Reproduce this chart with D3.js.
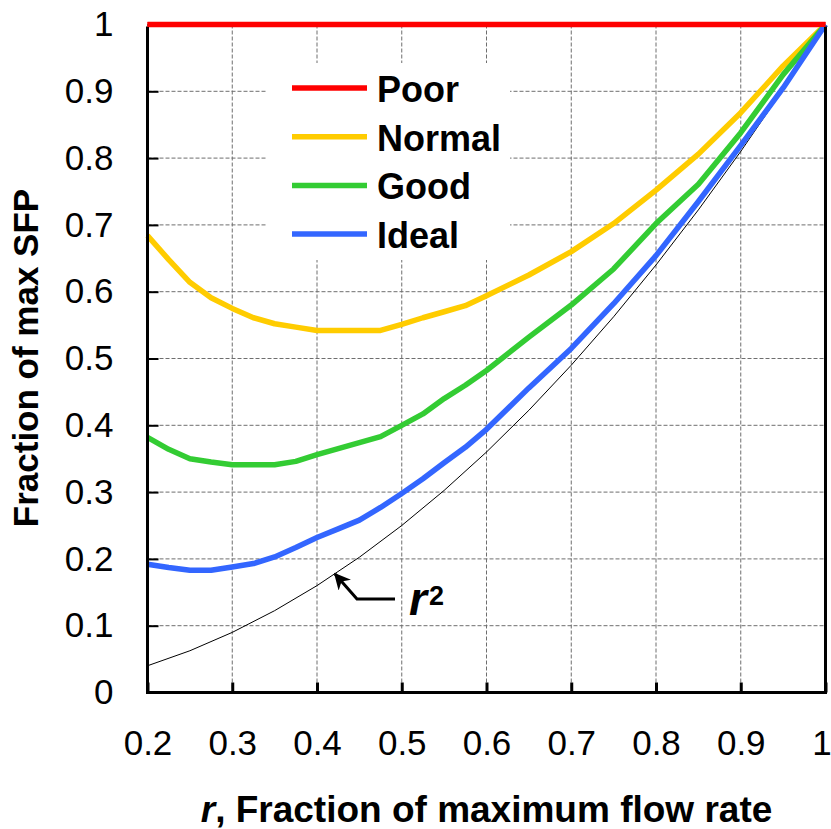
<!DOCTYPE html>
<html>
<head>
<meta charset="utf-8">
<script src="https://cdn.jsdelivr.net/npm/d3@7"></script>
<style>
body { margin: 0; background: #fff; }
text { font-family: "Liberation Sans", Arial, sans-serif; }
</style>
</head>
<body>
<div id="chart"></div>
<script>
var X_VALUES = [0.2, 0.225, 0.25, 0.275, 0.3, 0.325, 0.35, 0.375, 0.4, 0.425, 0.45, 0.475, 0.5,
	0.525, 0.55, 0.575, 0.6, 0.65, 0.7, 0.75, 0.8, 0.85, 0.9, 0.95, 1.0];
var POOR = [1, 1, 1, 1, 1, 1, 1, 1, 1, 1, 1, 1, 1, 1, 1, 1, 1, 1, 1, 1, 1, 1, 1, 1, 1];
var NORMAL = [0.684, 0.648, 0.614, 0.591, 0.575, 0.561, 0.552, 0.547, 0.542, 0.542, 0.542, 0.542, 0.551,
	0.561, 0.570, 0.579, 0.594, 0.625, 0.660, 0.702, 0.752, 0.806, 0.868, 0.938, 1.0];
var GOOD = [0.382, 0.364, 0.350, 0.345, 0.341, 0.341, 0.341, 0.346, 0.356, 0.365, 0.374, 0.383, 0.400,
	0.417, 0.440, 0.460, 0.482, 0.532, 0.580, 0.634, 0.702, 0.761, 0.838, 0.925, 1.0];
var IDEAL = [0.192, 0.187, 0.183, 0.183, 0.188, 0.193, 0.203, 0.217, 0.232, 0.245, 0.258, 0.277, 0.298,
	0.320, 0.344, 0.367, 0.394, 0.456, 0.515, 0.582, 0.654, 0.735, 0.819, 0.905, 1.0];

var R2_X = [0.2, 0.25, 0.3, 0.35, 0.4, 0.45, 0.5, 0.55, 0.6, 0.65, 0.7, 0.75, 0.8, 0.85, 0.9, 0.95, 1.0];
var R2_Y = [0.04, 0.0625, 0.09, 0.1225, 0.16, 0.2025, 0.25, 0.3025, 0.36, 0.4225, 0.49, 0.5625, 0.64,
	0.7225, 0.81, 0.9025, 1.0];

var SERIES_NAMES = ["Poor", "Normal", "Good", "Ideal"];
var SERIES_COLORS = ["#ff0000", "#ffcc00", "#33cc33", "#3366ff"];
var X_TICKS = [0.2, 0.3, 0.4, 0.5, 0.6, 0.7, 0.8, 0.9, 1];
var Y_TICKS = [0, 0.1, 0.2, 0.3, 0.4, 0.5, 0.6, 0.7, 0.8, 0.9, 1];

var width = 831, height = 829;
var plotLeft = 147.5, plotRight = 825.5, plotTop = 24.5, plotBottom = 692.5;

var svg = d3.select("#chart").append("svg")
	.attr("width", width)
	.attr("height", height);

var x = d3.scaleLinear().domain([0.2, 1]).range([plotLeft, plotRight]);
var y = d3.scaleLinear().domain([0, 1]).range([plotBottom, plotTop]);

/* grid */
var grid = svg.append("g");
grid.selectAll(".vg")
	.data(X_TICKS.slice(1, -1))
	.enter().append("line")
		.attr("x1", function(d) { return x(d); })
		.attr("x2", function(d) { return x(d); })
		.attr("y1", plotTop)
		.attr("y2", plotBottom)
		.attr("stroke", "#6e6e6e")
		.attr("stroke-width", 1)
		.attr("stroke-dasharray", "4,2");
grid.selectAll(".hg")
	.data(Y_TICKS.slice(1, -1))
	.enter().append("line")
		.attr("x1", plotLeft)
		.attr("x2", plotRight)
		.attr("y1", function(d) { return y(d); })
		.attr("y2", function(d) { return y(d); })
		.attr("stroke", "#6e6e6e")
		.attr("stroke-width", 1)
		.attr("stroke-dasharray", "4,2");

/* legend box hides grid */
svg.append("rect")
	.attr("x", 267).attr("y", 63)
	.attr("width", 243).attr("height", 197)
	.attr("fill", "#fff");

/* r squared line */
var line = d3.line()
	.x(function(d) { return x(d[0]); })
	.y(function(d) { return y(d[1]); });

svg.append("path")
	.datum(d3.zip(R2_X, R2_Y))
	.attr("d", line)
	.attr("fill", "none")
	.attr("stroke", "#000")
	.attr("stroke-width", 1);

/* series */
var seriesData = [POOR, NORMAL, GOOD, IDEAL];
seriesData.forEach(function(vals, i) {
	svg.append("path")
		.datum(d3.zip(X_VALUES, vals))
		.attr("d", line)
		.attr("fill", "none")
		.attr("stroke", SERIES_COLORS[i])
		.attr("stroke-width", 5.5)
		.attr("stroke-linejoin", "round");
});

/* axes frame */
var yAxis = d3.axisLeft(y).tickValues(Y_TICKS).tickSize(-11).tickPadding(34)
	.tickFormat(function(d) { return d === 0 || d === 1 ? d : d3.format(".1f")(d); });
var gy = svg.append("g").attr("transform", "translate(" + plotLeft + ",0)").call(yAxis);
gy.select(".domain").remove();
gy.selectAll(".tick line").attr("stroke", "#000").attr("stroke-width", 2);
gy.selectAll(".tick text").attr("font-size", 35).attr("fill", "#000")
	.attr("font-family", "'Liberation Sans', Arial, sans-serif");

var xAxis = d3.axisBottom(x).tickValues(X_TICKS).tickSize(-10).tickPadding(38)
	.tickFormat(function(d) { return d === 1 ? "1" : d3.format(".1f")(d); });
var gx = svg.append("g").attr("transform", "translate(0," + plotBottom + ")").call(xAxis);
gx.select(".domain").remove();
gx.selectAll(".tick line").attr("stroke", "#000").attr("stroke-width", 3);
gx.selectAll(".tick text").attr("font-size", 35).attr("fill", "#000")
	.attr("font-family", "'Liberation Sans', Arial, sans-serif")
	.attr("dx", function(d) { return d === 1 ? -4 : 0; });

svg.append("line")
	.attr("x1", plotLeft).attr("x2", plotLeft).attr("y1", plotTop + 2).attr("y2", plotBottom + 1.5)
	.attr("stroke", "#000").attr("stroke-width", 3);
svg.append("line")
	.attr("x1", plotLeft - 1.5).attr("x2", plotRight + 1.5).attr("y1", plotBottom).attr("y2", plotBottom)
	.attr("stroke", "#000").attr("stroke-width", 3);
svg.append("line")
	.attr("x1", plotRight).attr("x2", plotRight).attr("y1", plotTop + 2).attr("y2", plotBottom)
	.attr("stroke", "#000").attr("stroke-width", 3);

/* redraw poor line on top of frame */
svg.append("path")
	.datum(d3.zip(X_VALUES, POOR))
	.attr("d", line)
	.attr("fill", "none")
	.attr("stroke", SERIES_COLORS[0])
	.attr("stroke-width", 5);

/* legend */
var legend = svg.append("g");
SERIES_NAMES.forEach(function(name, i) {
	var ly = 88 + i * 48.7;
	legend.append("line")
		.attr("x1", 292).attr("x2", 367)
		.attr("y1", ly).attr("y2", ly)
		.attr("stroke", SERIES_COLORS[i])
		.attr("stroke-width", 5.5);
	legend.append("text")
		.attr("x", 377).attr("y", ly + 14)
		.attr("font-size", 36)
		.attr("font-weight", "bold")
		.text(name);
});

/* axis titles */
svg.append("text")
	.attr("transform", "translate(38,358) rotate(-90)")
	.attr("text-anchor", "middle")
	.attr("font-size", 35)
	.attr("font-weight", "bold")
	.text("Fraction of max SFP");

var xt = svg.append("text")
	.attr("x", (plotLeft + plotRight) / 2)
	.attr("y", 822)
	.attr("text-anchor", "middle")
	.attr("font-size", 37)
	.attr("font-weight", "bold");
xt.append("tspan").attr("font-style", "italic").text("r");
xt.append("tspan").text(", Fraction of maximum flow rate");

/* r^2 annotation */
svg.append("defs").append("marker")
	.attr("id", "arrow")
	.attr("viewBox", "0 0 10 10")
	.attr("refX", 9).attr("refY", 5)
	.attr("markerWidth", 5.5).attr("markerHeight", 5.5)
	.attr("markerUnits", "strokeWidth")
	.attr("orient", "auto")
	.append("path")
		.attr("d", "M0,0 L10,5 L0,10 L3,5 Z")
		.attr("fill", "#000");

svg.append("path")
	.attr("d", "M395,599 H357 L335,574")
	.attr("fill", "none")
	.attr("stroke", "#000")
	.attr("stroke-width", 3)
	.attr("marker-end", "url(#arrow)");

var r2 = svg.append("text")
	.attr("x", 409)
	.attr("y", 615)
	.attr("font-weight", "bold");
r2.append("tspan").attr("font-style", "italic").attr("font-size", 46).text("r");
r2.append("tspan").attr("font-size", 27).attr("dx", 2).attr("dy", -10).text("2");
</script>
</body>
</html>
